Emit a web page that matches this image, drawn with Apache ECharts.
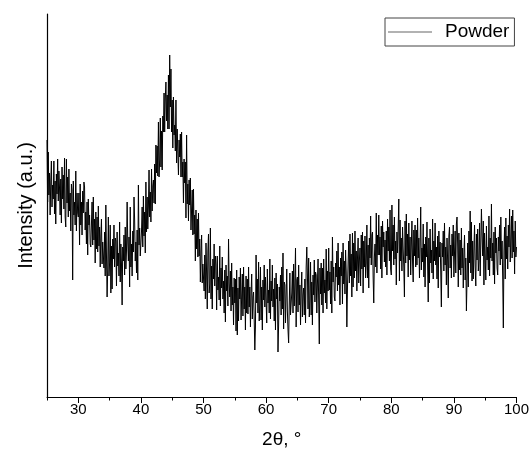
<!DOCTYPE html>
<html><head><meta charset="utf-8">
<script src="https://cdn.jsdelivr.net/npm/echarts@6/dist/echarts.min.js"></script>
<style>html,body{margin:0;padding:0;background:#fff}#c{width:532px;height:457px}</style>
</head><body><div id="c"></div>
<script>
// 2θ sampling grid: first angle and step (degrees)
const startAngle = 25;
const stepAngle = 0.1;

// Intensity (a.u.), 10 samples per degree
const v25 = [257,195,245,202,224,182,215,236,190,212, 198,236,183,216,173,223,203,238,196,226, 209,182,218,174,230,198,222,188,239,180, 170,238,194,220,180,228,186,204,166,213, 207,117,216,182,195,172,226,166,204,184];
const v30 = [180,204,152,213,172,195,162,206,184,215, 210,167,185,153,195,142,198,172,182,153, 150,173,195,152,200,157,178,134,185,148, 180,145,191,151,170,130,161,178,133,155, 157,129,165,121,192,143,100,129,180,121];
const v35 = [134,172,104,151,108,158,138,172,130,159, 156,111,165,131,144,121,175,115,153,133, 92,150,136,162,122,170,128,146,195,155, 136,160,110,190,130,153,121,166,145,200, 177,136,155,124,167,117,212,152,169,141];
const v40 = [140,166,190,150,201,161,185,144,215,165, 200,168,190,227,180,205,175,228,186,211, 217,194,233,193,252,224,251,221,275,220, 237,279,230,266,227,281,265,304,265,299, 315,276,302,268,322,268,342,290,328,265];
const v45 = [297,249,300,262,272,246,297,234,268,245, 222,257,240,263,220,265,220,235,194,238, 214,235,179,262,193,213,176,217,192,219, 167,188,207,162,208,163,182,136,187,148, 178,140,184,141,158,115,145,162,114,133];
const v50 = [133,106,142,98,154,122,88,146,163,104, 113,169,98,131,88,138,118,153,111,141, 132,87,141,107,120,97,151,91,129,109, 140,98,116,84,127,75,132,106,121,91, 158,114,100,126,86,134,92,110,72,119];
const v55 = [94,118,66,127,62,109,76,120,98,129, 77,101,123,81,130,88,110,67,121,84, 118,83,130,90,110,70,103,123,78,100, 105,78,47,70,142,94,118,84,135,76, 92,130,77,110,67,117,97,132,90,120];
const v60 = [119,74,128,94,107,84,138,78,116,96, 132,90,108,76,119,67,124,98,113,45, 72,110,96,122,82,130,88,144,68,115, 112,74,103,128,86,67,54,93,124,82, 80,104,126,84,133,91,113,149,70,117];
const v65 = [120,85,132,92,112,72,105,125,80,102, 109,82,118,74,130,150,122,88,139,80, 97,135,82,115,72,122,102,137,95,125, 122,84,113,138,96,53,129,103,134,92, 129,84,138,104,117,94,148,88,126,106];
const v70 = [149,107,125,93,136,84,160,115,130,100, 96,134,120,146,106,154,112,130,92,139, 121,145,93,154,113,136,103,147,125,70, 110,134,156,114,163,121,143,100,164,110, 154,119,166,126,146,106,139,159,114,136];
const v75 = [149,111,162,128,165,104,156,130,161,119, 134,172,119,152,109,159,139,181,132,162, 165,120,94,140,153,130,184,124,162,142, 182,142,160,128,171,119,176,150,165,135, 157,130,166,122,178,146,170,136,187,128];
const v80 = [122,192,146,172,132,180,138,156,112,165, 144,168,198,116,177,136,159,126,170,148, 130,100,176,134,183,141,163,120,174,137, 160,122,151,176,134,115,167,141,172,130, 167,132,179,139,159,119,152,190,127,149];
const v85 = [135,173,120,153,110,160,140,175,133,95, 159,114,168,134,147,124,178,118,156,136, 174,132,150,118,161,109,166,140,155,125, 90,154,140,166,126,174,132,150,112,159, 137,99,161,170,129,152,119,163,141,172];
const v90 = [120,144,166,124,173,180,153,110,164,127, 157,122,169,129,149,109,142,162,117,139, 86,118,154,110,166,134,186,124,175,116, 156,118,147,172,130,111,163,137,168,126, 136,174,121,154,188,161,141,176,112,164];
const v95 = [162,117,171,137,150,127,181,121,159,139, 193,136,154,122,165,113,170,144,159,129, 122,160,146,172,132,180,138,156,118,69, 146,170,118,179,138,161,128,172,150,188, 135,159,181,139,187,145,166,123,176,140];
const v100 = [150];

const majorTicks = [30,40,50,60,70,80,90,100];
const minorTicks = [25,35,45,55,65,75,85,95];
const seriesName = 'Powder';
const xName = '2θ, °';
const yName = 'Intensity (a.u.)';

const intensity = [].concat(v25,v30,v35,v40,v45,v50,v55,v60,v65,v70,v75,v80,v85,v90,v95,v100);
const data = intensity.map((y,i)=>[+(startAngle + i*stepAngle).toFixed(2), y]);

const FONT = '"Liberation Sans", Arial, sans-serif';
const chart = echarts.init(document.getElementById('c'), null, {renderer:'canvas'});
chart.setOption({
  animation:false,
  backgroundColor:'#fff',
  grid:{left:47, right:12, top:14, bottom:60, containLabel:false},
  legend:{
    data:[seriesName], left:385, top:18, padding:[3,5,3,3],
    borderColor:'#444', borderWidth:1, itemWidth:44, itemHeight:1, icon:'rect',
    itemStyle:{color:'#666'},
    textStyle:{fontSize:19, color:'#000', fontFamily:FONT, padding:[0,0,0,8], lineHeight:22}
  },
  xAxis:[{
    type:'value', min:25, max:100,
    axisLine:{show:true, onZero:false, lineStyle:{color:'#000', width:1}},
    axisTick:{show:true, customValues:majorTicks, length:6, lineStyle:{color:'#000', width:1}},
    axisLabel:{customValues:majorTicks, fontSize:15, color:'#000', fontFamily:FONT, margin:5},
    splitLine:{show:false},
    name:xName, nameLocation:'middle', nameGap:33,
    nameTextStyle:{fontSize:19, color:'#000', fontFamily:FONT}
  },{
    type:'value', min:25, max:100, position:'bottom',
    axisLine:{show:false, onZero:false},
    axisTick:{show:true, customValues:minorTicks, length:3.5, lineStyle:{color:'#000', width:1}},
    axisLabel:{show:false}, splitLine:{show:false}
  }],
  yAxis:{
    type:'value', min:0, max:383,
    axisLine:{show:true, onZero:false, lineStyle:{color:'#000', width:1.2}},
    axisTick:{show:false}, axisLabel:{show:false}, splitLine:{show:false},
    name:yName, nameLocation:'middle', nameGap:11,
    nameTextStyle:{fontSize:20, color:'#000', fontFamily:FONT}
  },
  series:[{
    type:'line', name:seriesName, data:data, xAxisIndex:0,
    showSymbol:false, symbol:'none', silent:true,
    lineStyle:{color:'#000', width:1}, itemStyle:{color:'#000'}
  }]
});
</script></body></html>
